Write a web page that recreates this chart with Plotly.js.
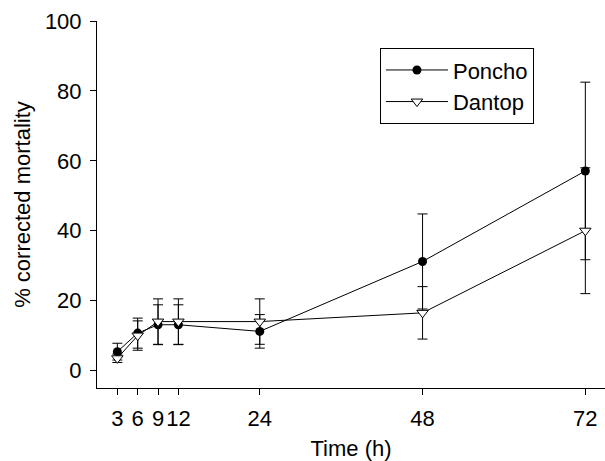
<!DOCTYPE html>
<html>
<head>
<meta charset="utf-8">
<script src="https://cdn.plot.ly/plotly-3.0.1.min.js"></script>
<style>html,body{margin:0;padding:0;background:#fff;}#chart{width:605px;height:461px;}</style>
</head>
<body>
<div id="chart"></div>
<script>
var timeH = [3, 6, 9, 12, 24, 48, 72];
var ponchoMean = [5.4, 10.7, 13.1, 13.1, 11.2, 31.2, 57.1];
var ponchoErr = [2.4, 4.3, 5.7, 5.7, 4.8, 13.6, 25.4];
var dantopMean = [3.5, 10.0, 14.0, 14.0, 14.0, 16.5, 40.0];
var dantopErr = [1.2, 4.2, 6.5, 6.5, 6.5, 7.5, 18.0];
var xTicks = [3, 6, 9, 12, 24, 48, 72];
var yTicks = [0, 20, 40, 60, 80, 100];

var font = "Liberation Sans, Arial, sans-serif";

var traces = [
  {
    x: timeH, y: ponchoMean, name: 'Poncho', type: 'scatter', mode: 'lines+markers',
    line: {color: 'black', width: 1},
    marker: {symbol: 'circle', size: 9, color: 'black'},
    error_y: {type: 'data', array: ponchoErr, visible: true, color: 'black', thickness: 1, width: 5}
  },
  {
    x: timeH, y: dantopMean, name: 'Dantop', type: 'scatter', mode: 'lines+markers',
    line: {color: 'black', width: 1},
    marker: {symbol: 'triangle-down', size: 10, color: 'white', line: {color: 'black', width: 1}},
    error_y: {type: 'data', array: dantopErr, visible: true, color: 'black', thickness: 1, width: 5}
  }
];

var layout = {
  width: 605, height: 461,
  margin: {l: 97, r: 0, t: 21, b: 73},
  paper_bgcolor: 'white', plot_bgcolor: 'white',
  font: {family: font, size: 22, color: 'black'},
  showlegend: true,
  legend: {
    x: 0.557, y: 0.926, xanchor: 'left', yanchor: 'top',
    bgcolor: 'white', bordercolor: 'black', borderwidth: 1,
    itemwidth: 62,
    font: {family: font, size: 22, color: 'black'}
  },
  xaxis: {
    range: [0, 74.9], tickvals: xTicks, ticktext: xTicks.map(String),
    tickangle: 0,
    showgrid: false, zeroline: false, showline: true, linecolor: 'black', linewidth: 1,
    ticks: 'outside', ticklen: 6, tickcolor: 'black', ticklabelstandoff: 5,
    tickfont: {family: font, size: 22},
    title: {text: 'Time (h)', font: {family: font, size: 22}, standoff: 13}
  },
  yaxis: {
    range: [-5, 100], tickvals: yTicks,
    showgrid: false, zeroline: false, showline: true, linecolor: 'black', linewidth: 1,
    ticks: 'outside', ticklen: 6, tickcolor: 'black', ticklabelstandoff: 4,
    tickfont: {family: font, size: 22},
    title: {text: '% corrected mortality', font: {family: font, size: 22}, standoff: 8}
  }
};

Plotly.newPlot('chart', traces, layout, {displayModeBar: false, staticPlot: true});
</script>
</body>
</html>
